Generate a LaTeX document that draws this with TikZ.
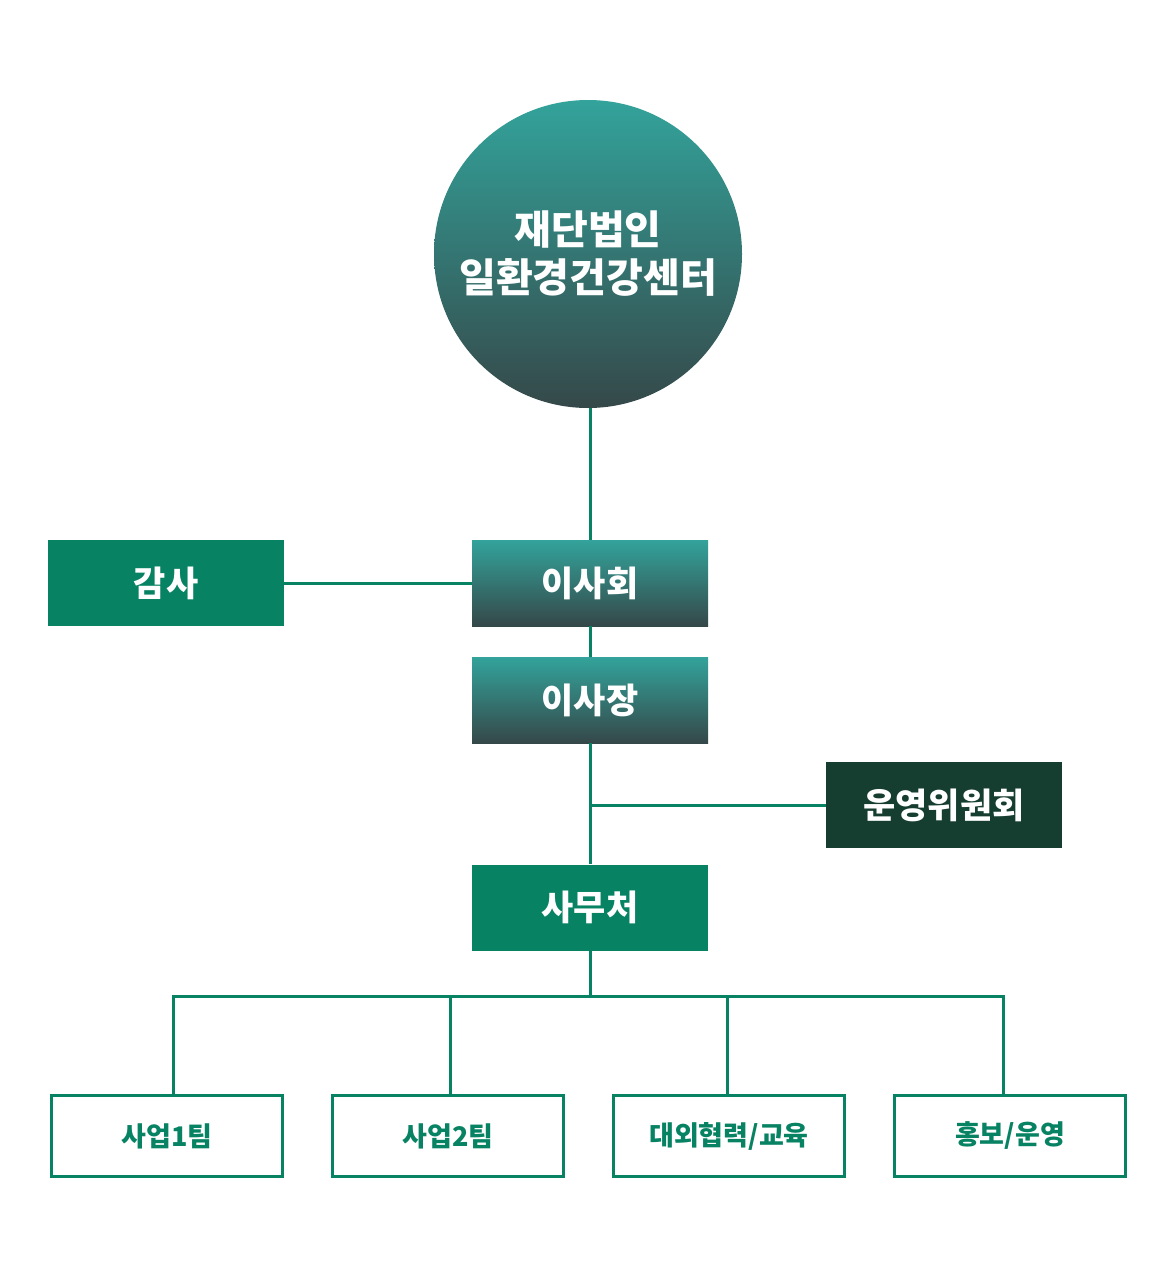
\documentclass[tikz,border=0pt]{standalone}
\usepackage{fontspec}
\setmainfont{Noto Sans CJK KR}
\usetikzlibrary{positioning}

\definecolor{orggreen}{HTML}{078263}
\definecolor{orgdark}{HTML}{153E30}
\definecolor{gradtop}{HTML}{33A39B}
\definecolor{gradbot}{HTML}{354849}

\tikzset{
  link/.style={draw=orggreen,line width=3pt},
  gradbox/.style={minimum width=236pt,minimum height=86pt,inner sep=0pt,
    top color=gradtop,bottom color=gradbot,text=white,font=\bfseries\fontsize{35}{40}\selectfont},
  solidbox/.style={minimum width=236pt,minimum height=86pt,inner sep=0pt,
    fill=orggreen,text=white,font=\bfseries\fontsize{35}{40}\selectfont},
  teambox/.style={minimum width=231pt,minimum height=81pt,inner sep=0pt,
    draw=orggreen,line width=3.5pt,fill=white,text=orggreen,font=\bfseries\fontsize{27}{30}\selectfont}
}

\begin{document}
\begin{tikzpicture}[x=1pt,y=-1pt]
\useasboundingbox[fill=white] (0,0) rectangle (1164,1266);

\node[circle,minimum size=308pt,inner sep=0pt,top color=gradtop,bottom color=gradbot,
  text=white,align=center,font=\bfseries\fontsize{40}{48}\selectfont] (center) at (588,254)
  {재단법인\\일환경건강센터};

\node[gradbox] (board) at (590,583) {이사회};
\node[solidbox] (audit) at (166,583) {감사};
\node[gradbox] (chair) at (590,700) {이사장};
\node[solidbox,fill=orgdark] (committee) at (944,805) {운영위원회};
\node[solidbox] (office) at (590,907.5) {사무처};

\node[teambox] (team1) at (167,1136) {사업1팀};
\node[teambox] (team2) at (448,1136) {사업2팀};
\node[teambox] (team3) at (729,1136) {대외협력/교육};
\node[teambox] (team4) at (1010,1136) {홍보/운영};

\coordinate (bus) at (590,996);

% connectors
\draw[link] (center.south -| board.north) -- (board.north);
\draw[link] (audit.east) -- (board.west);
\draw[link] (board.south) -- (chair.north);
\draw[link] (chair.south) -- (office.north);
\draw[link] (committee.west) -- (committee.west -| chair.south);
\draw[link] (office.south) -- (bus);
\draw[link] ([xshift=6pt]team1.north) |- (bus) -| ([xshift=-7pt]team4.north);
\draw[link] ([xshift=2pt]team2.north) -- ([xshift=2pt]team2.north |- bus);
\draw[link] ([xshift=-2pt]team3.north) -- ([xshift=-2pt]team3.north |- bus);
\end{tikzpicture}
\end{document}
